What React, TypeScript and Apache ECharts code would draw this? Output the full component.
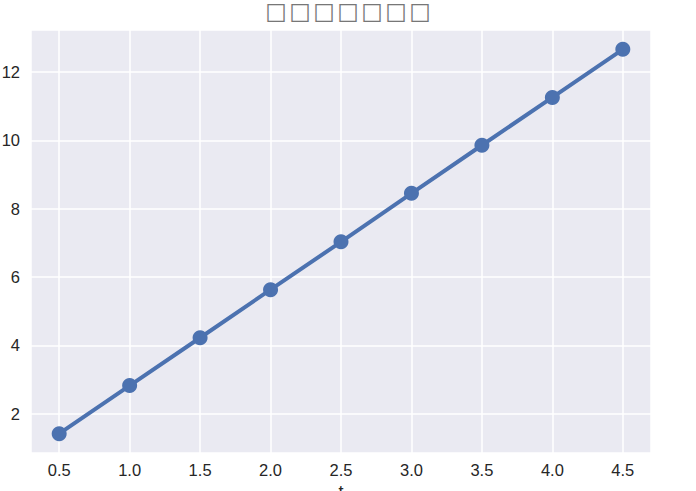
import React, { useEffect, useRef } from "react";
import * as echarts from "echarts";

const titleChars = ["□", "□", "□", "□", "□", "□", "□"];
const xLabel = "t";
const tValues = [0.5, 1.0, 1.5, 2.0, 2.5, 3.0, 3.5, 4.0, 4.5];
const yValues = [1.41, 2.82, 4.22, 5.63, 7.03, 8.45, 9.86, 11.26, 12.67];

export default function App() {
  const ref = useRef<HTMLDivElement>(null);
  useEffect(() => {
    if (!ref.current) return;
    const chart = echarts.init(ref.current, null, { renderer: "svg" });
    const font = "'Liberation Sans', Arial, sans-serif";
    chart.setOption({
      animation: false,
      backgroundColor: "#ffffff",
      title: {
        text: titleChars.map((c) => `{b|${c}}`).join(""),
        left: "center",
        top: 0,
        padding: 0,
        textStyle: {
          rich: {
            b: { fontFamily: "'DejaVu Sans'", fontSize: 23, lineHeight: 21, color: "#777", width: 24, align: "center" },
          },
        },
      },
      grid: {
        left: 31, right: 45, top: 30, bottom: 38,
        show: true, backgroundColor: "#eaeaf2", borderWidth: 0,
        outerBoundsMode: "none",
        containLabel: false,
      },
      xAxis: {
        type: "value",
        min: 0.3, max: 4.7,
        splitNumber: 9, minInterval: 0.5, maxInterval: 0.5,
        name: xLabel,
        nameLocation: "middle",
        nameGap: 30,
        nameTextStyle: { fontFamily: font, fontSize: 18, color: "#262626" },
        axisLine: { show: false }, axisTick: { show: false },
        axisLabel: {
          fontFamily: font, fontSize: 16.5, color: "#262626", margin: 8,
          formatter: (v: number) => (Math.abs(v * 2 - Math.round(v * 2)) < 1e-6 ? v.toFixed(1) : ""),
        },
        splitLine: { show: true, lineStyle: { color: "#ffffff", width: 1.5 } },
      },
      yAxis: {
        type: "value",
        min: 0.845, max: 13.235,
        splitNumber: 6, minInterval: 2, maxInterval: 2,
        axisLine: { show: false }, axisTick: { show: false },
        axisLabel: {
          fontFamily: font, fontSize: 16.5, color: "#262626", margin: 11,
          formatter: (v: number) => (Math.abs(v / 2 - Math.round(v / 2)) < 1e-6 ? String(v) : ""),
        },
        splitLine: { show: true, lineStyle: { color: "#ffffff", width: 1.5 } },
      },
      series: [
        {
          type: "line",
          data: tValues.map((t, i) => [t, yValues[i]]),
          symbol: "circle",
          symbolSize: 15,
          lineStyle: { color: "#4c72b0", width: 4 },
          itemStyle: { color: "#4c72b0" },
        },
      ],
    });
    return () => chart.dispose();
  }, []);
  return <div ref={ref} style={{ width: 696, height: 491, position: "absolute", left: 0, top: 0 }} />;
}
